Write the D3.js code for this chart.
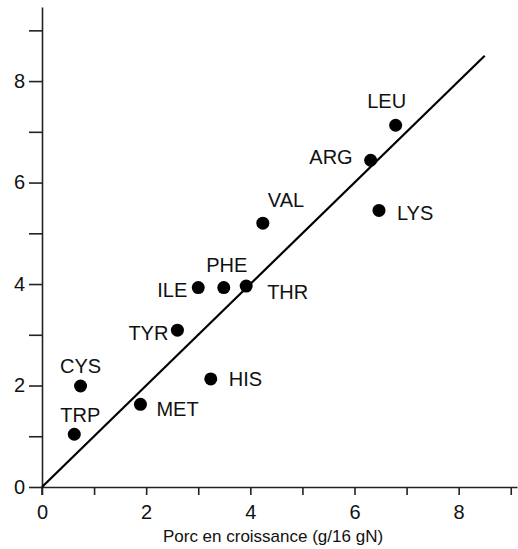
<!DOCTYPE html>
<html>
<head>
<meta charset="utf-8">
<script src="https://cdn.jsdelivr.net/npm/d3@7"></script>
<style>
  body { margin: 0; background: #fff; }
  text { font-family: "Liberation Sans", Arial, sans-serif; fill: #111; }
</style>
</head>
<body>
<div id="chart"></div>
<script>
// amino acids: x = porc en croissance, y = reference
var names = ["TRP","CYS","MET","TYR","HIS","ILE","PHE","THR","VAL","ARG","LEU","LYS"]
var xVals = [0.62, 0.74, 1.89, 2.60, 3.24, 3.00, 3.49, 3.92, 4.24, 6.31, 6.79, 6.47]
var yVals = [1.04, 1.99, 1.63, 3.09, 2.13, 3.93, 3.93, 3.96, 5.20, 6.44, 7.13, 5.45]
var lineEnds = [0, 8.5]          // fitted line y = x
var xTicks = [0,1,2,3,4,5,6,7,8,9]
var yTicks = [0,1,2,3,4,5,6,7,8,9]
var xTitle = "Porc en croissance (g/16 gN)"

// label placement relative to each point
var labelPos = {
  TRP: [6, -12, "middle"], CYS: [0, -13, "middle"], MET: [16, 12, "start"],
  TYR: [-9, 10, "end"], HIS: [18, 7, "start"], ILE: [-11, 9, "end"],
  PHE: [3, -16, "middle"], THR: [21, 13, "start"], VAL: [5, -16, "start"],
  ARG: [-18, 4, "end"], LEU: [-9, -17, "middle"], LYS: [18, 10, "start"]
}

var width = 518, height = 549
var svg = d3.select("#chart").append("svg")
    .attr("width", width)
    .attr("height", height)

var x = d3.scaleLinear().domain([0, 9.12]).range([42, 517])
var y = d3.scaleLinear().domain([0, 9.46]).range([487, 7])

var xAxis = svg.append("g")
    .attr("transform", "translate(0," + y(0) + ")")
    .call(d3.axisBottom(x).tickValues(xTicks).tickSize(8).tickSizeOuter(0)
        .tickFormat(function(d){ return d % 2 == 0 ? d : "" }))
var yAxis = svg.append("g")
    .attr("transform", "translate(" + x(0) + ",0)")
    .call(d3.axisLeft(y).tickValues(yTicks).tickSize(13).tickSizeOuter(0)
        .tickFormat(function(d){ return d % 2 == 0 ? d : "" }))

svg.selectAll(".domain").attr("stroke", "#222").attr("stroke-width", 1.6)
svg.selectAll(".tick line").attr("stroke", "#222").attr("stroke-width", 1.6)
svg.selectAll(".tick text")
    .style("font-family", "'Liberation Sans', Arial, sans-serif")
    .style("font-size", "20px")
    .attr("fill", "#111")
xAxis.selectAll(".tick text").attr("dy", "0.95em").attr("y", 13)
yAxis.selectAll(".tick text").attr("x", -17)

// y-axis continues a little under the x axis
svg.append("line")
    .attr("x1", x(0)).attr("x2", x(0))
    .attr("y1", y(0)).attr("y2", y(0) + 8)
    .attr("stroke", "#222").attr("stroke-width", 1.6)

svg.append("text")
    .attr("x", 273)
    .attr("y", 542)
    .attr("text-anchor", "middle")
    .style("font-size", "17px")
    .text(xTitle)

// fitted line
svg.append("line")
    .attr("x1", x(lineEnds[0])).attr("y1", y(lineEnds[0]))
    .attr("x2", x(lineEnds[1])).attr("y2", y(lineEnds[1]))
    .attr("stroke", "#000").attr("stroke-width", 2.2)

var data = names.map(function(n, i){ return {name: n, x: xVals[i], y: yVals[i]} })

svg.selectAll("circle.pt").data(data).enter().append("circle")
    .attr("class", "pt")
    .attr("cx", function(d){ return x(d.x) })
    .attr("cy", function(d){ return y(d.y) })
    .attr("r", 6.5)
    .style("fill", "#000")

svg.selectAll("text.lbl").data(data).enter().append("text")
    .attr("class", "lbl")
    .attr("x", function(d){ return x(d.x) + labelPos[d.name][0] })
    .attr("y", function(d){ return y(d.y) + labelPos[d.name][1] })
    .attr("text-anchor", function(d){ return labelPos[d.name][2] })
    .style("font-size", "20px")
    .text(function(d){ return d.name })
</script>
</body>
</html>
